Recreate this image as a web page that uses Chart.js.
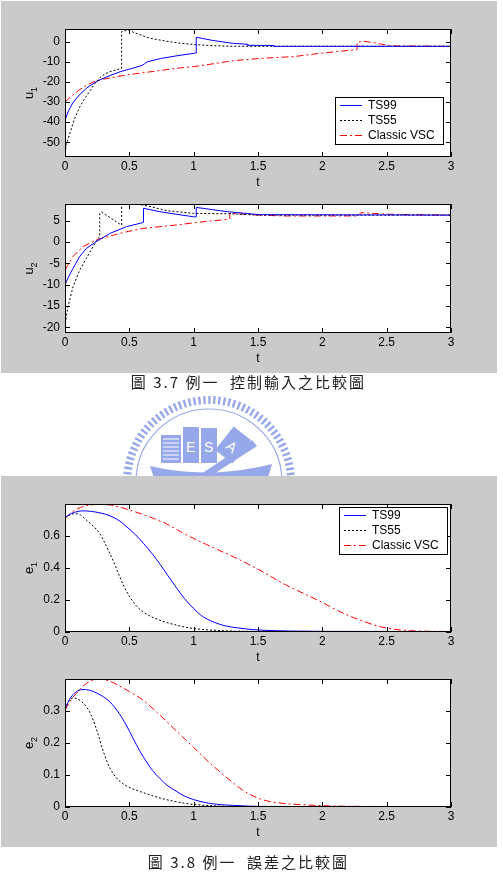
<!DOCTYPE html>
<html>
<head>
<meta charset="utf-8">
<script src="https://cdn.jsdelivr.net/npm/chart.js@4.4.0/dist/chart.umd.min.js"></script>
<style>
  html, body { margin: 0; padding: 0; background: #fff; }
  body { width: 503px; height: 876px; position: relative; overflow: hidden; }
  .painel { position: absolute; left: 1px; width: 496px; background: #cacaca; }
  canvas { position: absolute; left: 0; }
  .legenda-fig { position: absolute; left: 0; width: 497px; text-align: center; white-space: pre;
    font-family: "Noto Sans CJK TC"; font-size: 15px; line-height: 20px; letter-spacing: 2px; color: #222; }
  #logo { position: absolute; left: 0; top: 380px; }
</style>
</head>
<body>
<div class="painel" style="top:1px;height:372px"></div>
<svg id="logo" width="503" height="100">
  <g fill="none" stroke="#97a8ea">
    <circle cx="209" cy="102" r="82" stroke-width="8" stroke-dasharray="2.4 2.6"/>
    <circle cx="209" cy="102" r="73" stroke-width="1.2"/>
  </g>
  <g fill="#97a8ea">
    <rect x="161" y="55" width="20" height="28"/>
    <rect x="183" y="47" width="16" height="36"/>
    <rect x="201" y="48" width="16" height="35"/>
    <rect x="222" y="50" width="22" height="30" transform="rotate(38 233 65)"/>
    <path d="M150 86 Q209 100 272 84 L268 98 L154 98 Z"/>
    <path d="M198 96 L252 60 L257 66 L206 99 Z"/>
  </g>
  <g stroke="#fff" stroke-width="1">
    <line x1="163" y1="59" x2="179" y2="59"/><line x1="163" y1="63" x2="179" y2="63"/>
    <line x1="163" y1="67" x2="179" y2="67"/><line x1="163" y1="71" x2="179" y2="71"/>
    <line x1="163" y1="75" x2="179" y2="75"/><line x1="163" y1="79" x2="179" y2="79"/>
  </g>
  <g fill="#fff" font-family="Liberation Sans" font-size="14">
    <text x="186" y="72">E</text>
    <text x="204" y="72">S</text>
    <text x="227" y="72" transform="rotate(38 232 67)">A</text>
  </g>
</svg>
<div class="painel" style="top:476px;height:371px"></div>

<canvas id="graficoU1" width="497" height="188" style="top:9px"></canvas>
<canvas id="graficoU2" width="497" height="189" style="top:184px"></canvas>
<canvas id="graficoE1" width="497" height="188" style="top:484px"></canvas>
<canvas id="graficoE2" width="497" height="188" style="top:659px"></canvas>

<div class="legenda-fig" style="top:372px">圖 3.7 例一  控制輸入之比較圖</div>
<div class="legenda-fig" style="top:852px">圖 3.8 例一  誤差之比較圖</div>

<script>
// --- Dados ---
const tTicks = [0, 0.5, 1, 1.5, 2, 2.5, 3];
const u1Ticks = [-50, -40, -30, -20, -10, 0];
const u2Ticks = [-20, -15, -10, -5, 0, 5];
const e1Ticks = [0, 0.2, 0.4, 0.6];
const e2Ticks = [0, 0.1, 0.2, 0.3];
const nomesSeries = ['TS99', 'TS55', 'Classic VSC'];

// u1
const u1_ts99_t = [0, 0.03, 0.06, 0.11, 0.17, 0.22, 0.27, 0.35, 0.43, 0.52, 0.6, 0.62, 0.64, 0.75, 0.87, 1.0, 1.02, 1.02, 1.15, 1.3, 1.42, 1.42, 1.62, 1.62, 3];
const u1_ts99   = [-39, -34, -30.5, -26.5, -23, -20.8, -19, -16.8, -14.9, -13.3, -11.8, -10.9, -10, -8.3, -7, -5.8, -5.6, 2.2, 0.6, -0.8, -1.3, -1.8, -1.9, -2.3, -2.3];
const u1_ts55_t = [0, 0.01, 0.036, 0.07, 0.11, 0.15, 0.19, 0.23, 0.27, 0.31, 0.35, 0.44, 0.44, 0.49, 0.55, 0.66, 0.74, 0.79, 0.9, 1.0, 1.15, 1.3, 3];
const u1_ts55   = [-55.5, -51, -46, -39, -33, -28.5, -24.8, -21, -18, -16, -14.9, -13.2, 5, 5.8, 4.2, 1.7, 0.8, 0.2, -0.8, -1.4, -2, -2.3, -2.3];
const u1_vsc_t  = [0, 0.05, 0.11, 0.17, 0.22, 0.3, 0.48, 0.66, 0.87, 1.0, 1.13, 1.26, 1.3, 1.52, 1.78, 1.98, 2.12, 2.27, 2.27, 2.32, 2.4, 2.53, 3];
const u1_vsc    = [-30, -27, -24, -21.6, -20, -18.6, -16.5, -15, -13.2, -12.4, -11.2, -9.9, -9.5, -8.3, -7.4, -5.8, -4.9, -3.9, -0.3, 0.2, -0.5, -2.1, -2.3];

// u2
const u2_ts99_t = [0, 0.03, 0.062, 0.114, 0.166, 0.244, 0.348, 0.478, 0.6, 0.61, 0.61, 0.737, 0.866, 1.0, 1.02, 1.02, 1.26, 1.52, 3];
const u2_ts99   = [-10, -8, -6.2, -3.4, -1.5, 0.1, 2.0, 3.6, 4.5, 4.6, 7.9, 7.1, 6.5, 5.9, 5.9, 8.1, 7.1, 6.4, 6.3];
const u2_ts55_t = [0, 0.01, 0.023, 0.062, 0.114, 0.166, 0.218, 0.257, 0.27, 0.27, 0.285, 0.426, 0.44, 0.44, 0.5, 0.58, 0.66, 0.8, 1.0, 1.3, 1.5, 3];
const u2_ts55   = [-20, -17.5, -15.2, -10.5, -6.6, -3.8, -1.1, 0.9, 1.2, 6.7, 7.0, 4.2, 4.0, 8.8, 8.85, 8.8, 8.3, 7.3, 6.7, 6.6, 6.3, 6.3];
const u2_vsc_t  = [0, 0.03, 0.062, 0.1, 0.14, 0.19, 0.244, 0.35, 0.478, 0.607, 0.737, 0.87, 1.0, 1.13, 1.26, 1.28, 1.28, 1.35, 1.5, 1.7, 2.0, 2.28, 2.3, 2.4, 2.53, 2.7, 3];
const u2_vsc    = [-6.6, -5, -3.4, -2.2, -1.1, -0.3, 0.5, 1.4, 2.4, 3.2, 3.6, 4.0, 4.5, 4.9, 5.3, 5.4, 6.7, 6.6, 6.3, 6.1, 6.1, 6.1, 6.9, 6.7, 6.5, 6.4, 6.3];

// e1
const e1_ts99_t = [0, 0.05, 0.1, 0.14, 0.2, 0.28, 0.35, 0.42, 0.48, 0.55, 0.61, 0.68, 0.74, 0.8, 0.87, 0.93, 1.0, 1.06, 1.13, 1.2, 1.26, 1.35, 1.46, 1.6, 1.75, 2, 3];
const e1_ts99   = [0.715, 0.74, 0.752, 0.756, 0.753, 0.742, 0.725, 0.695, 0.656, 0.605, 0.552, 0.485, 0.42, 0.35, 0.27, 0.205, 0.144, 0.1, 0.068, 0.046, 0.033, 0.022, 0.012, 0.006, 0.003, 0.001, 0];
const e1_ts55_t = [0, 0.03, 0.062, 0.09, 0.12, 0.166, 0.22, 0.27, 0.31, 0.348, 0.39, 0.426, 0.46, 0.504, 0.55, 0.607, 0.67, 0.737, 0.8, 0.866, 0.93, 1.0, 1.1, 1.26, 1.4, 1.6, 3];
const e1_ts55   = [0.71, 0.728, 0.737, 0.738, 0.73, 0.698, 0.66, 0.614, 0.555, 0.489, 0.415, 0.342, 0.28, 0.217, 0.165, 0.123, 0.093, 0.071, 0.054, 0.04, 0.028, 0.019, 0.011, 0.004, 0.0015, 0, 0];
const e1_vsc_t  = [0, 0.05, 0.1, 0.15, 0.2, 0.27, 0.35, 0.42, 0.5, 0.6, 0.7, 0.8, 0.9, 1.0, 1.1, 1.2, 1.31, 1.4, 1.49, 1.6, 1.72, 1.85, 1.98, 2.11, 2.24, 2.35, 2.45, 2.55, 2.65, 2.75, 2.9, 3];
const e1_vsc    = [0.71, 0.745, 0.77, 0.785, 0.793, 0.796, 0.793, 0.78, 0.762, 0.735, 0.705, 0.67, 0.625, 0.583, 0.545, 0.508, 0.468, 0.432, 0.395, 0.345, 0.29, 0.24, 0.19, 0.135, 0.088, 0.055, 0.03, 0.015, 0.007, 0.003, 0.001, 0];

// e2
const e2_ts99_t = [0, 0.03, 0.062, 0.1, 0.14, 0.18, 0.22, 0.28, 0.35, 0.42, 0.48, 0.53, 0.58, 0.63, 0.68, 0.74, 0.8, 0.87, 0.93, 1.0, 1.13, 1.31, 1.5, 2, 3];
const e2_ts99   = [0.305, 0.332, 0.35, 0.362, 0.366, 0.365, 0.36, 0.348, 0.327, 0.292, 0.252, 0.213, 0.175, 0.142, 0.113, 0.087, 0.065, 0.047, 0.033, 0.022, 0.01, 0.004, 0.001, 0, 0];
const e2_ts55_t = [0, 0.03, 0.062, 0.09, 0.13, 0.17, 0.21, 0.25, 0.3, 0.35, 0.4, 0.45, 0.52, 0.6, 0.74, 0.87, 1.0, 1.2, 1.4, 3];
const e2_ts55   = [0.305, 0.33, 0.34, 0.338, 0.328, 0.31, 0.28, 0.235, 0.17, 0.12, 0.09, 0.072, 0.057, 0.045, 0.027, 0.015, 0.007, 0.002, 0, 0];
const e2_vsc_t  = [0, 0.05, 0.1, 0.15, 0.2, 0.27, 0.35, 0.42, 0.5, 0.6, 0.74, 0.87, 1.0, 1.13, 1.26, 1.38, 1.46, 1.57, 1.7, 1.85, 2.0, 2.3, 3];
const e2_vsc    = [0.302, 0.335, 0.36, 0.38, 0.393, 0.398, 0.392, 0.378, 0.36, 0.335, 0.285, 0.235, 0.185, 0.135, 0.09, 0.052, 0.034, 0.018, 0.01, 0.006, 0.003, 0.001, 0];

// Estilos das linhas (estilo MATLAB)
const cores = ['#0000ff', '#000000', '#ff0000'];
const tracos = [[], [2, 2], [7, 3, 2, 3]];
const fonte = 'Liberation Sans, Arial, sans-serif';

// --- Plugin: caixa, ticks internos, rótulo do eixo y e legenda ---
const eixosMatlab = {
    id: 'eixosMatlab',
    beforeDraw(chart) {
        const a = chart.chartArea, ctx = chart.ctx;
        ctx.save();
        ctx.fillStyle = '#fff';
        ctx.fillRect(a.left, a.top, a.right - a.left, a.bottom - a.top);
        ctx.restore();
    },
    afterDraw(chart, args, opts) {
        const ctx = chart.ctx, a = chart.chartArea;
        const sx = chart.scales.x, sy = chart.scales.y;
        ctx.save();
        ctx.strokeStyle = '#000';
        ctx.lineWidth = 1;
        ctx.strokeRect(a.left + 0.5, a.top + 0.5, a.right - a.left - 1, a.bottom - a.top - 1);

        // ticks para dentro, nos quatro lados
        ctx.beginPath();
        sx.ticks.forEach(tk => {
            const px = Math.round(sx.getPixelForValue(tk.value)) + 0.5;
            ctx.moveTo(px, a.bottom); ctx.lineTo(px, a.bottom - 5);
            ctx.moveTo(px, a.top); ctx.lineTo(px, a.top + 5);
        });
        sy.ticks.forEach(tk => {
            const py = Math.round(sy.getPixelForValue(tk.value)) + 0.5;
            ctx.moveTo(a.left, py); ctx.lineTo(a.left + 5, py);
            ctx.moveTo(a.right, py); ctx.lineTo(a.right - 5, py);
        });
        ctx.stroke();

        // rótulo do eixo y com subscrito
        ctx.fillStyle = '#000';
        ctx.font = '13px ' + fonte;
        const wL = ctx.measureText(opts.letra).width;
        ctx.font = '9px ' + fonte;
        const wS = ctx.measureText(opts.sub).width;
        ctx.translate(33, (a.top + a.bottom) / 2);
        ctx.rotate(-Math.PI / 2);
        ctx.textBaseline = 'alphabetic';
        ctx.textAlign = 'left';
        ctx.font = '13px ' + fonte;
        ctx.fillText(opts.letra, -(wL + wS) / 2, 0);
        ctx.font = '9px ' + fonte;
        ctx.fillText(opts.sub, -(wL + wS) / 2 + wL, 3.5);
        ctx.setTransform(1, 0, 0, 1, 0, 0);

        // legenda em caixa
        if (opts.caixa) {
            const c = opts.caixa;
            const bx = a.left + c.x, by = a.top + c.y;
            ctx.fillStyle = '#fff';
            ctx.fillRect(bx, by, c.w, c.h);
            ctx.strokeRect(Math.round(bx) + 0.5, Math.round(by) + 0.5, c.w, c.h);
            ctx.font = '12px ' + fonte;
            ctx.textBaseline = 'middle';
            chart.data.datasets.forEach((ds, i) => {
                const ly = Math.round(by + 8 + i * 15) + 0.5;
                ctx.beginPath();
                ctx.strokeStyle = ds.borderColor;
                ctx.setLineDash(ds.borderDash);
                ctx.moveTo(bx + 5, ly); ctx.lineTo(bx + 27, ly);
                ctx.stroke();
                ctx.setLineDash([]);
                ctx.fillStyle = '#000';
                ctx.fillText(ds.label, bx + 33, ly);
            });
        }
        ctx.restore();
    }
};

function criarGrafico(id, series, yMin, yMax, yTicks, letra, sub, caixa, suave) {
    const datasets = series.map((s, i) => ({
        label: nomesSeries[i],
        data: s[0].map((t, k) => ({ x: t, y: s[1][k] })),
        borderColor: cores[i],
        borderDash: tracos[i],
        borderWidth: 1,
        pointRadius: 0,
        fill: false,
        tension: 0,
        cubicInterpolationMode: suave ? 'monotone' : 'default'
    }));

    const estiloTicks = { color: '#000', font: { family: fonte, size: 12 }, callback: v => String(v) };

    return new Chart(document.getElementById(id), {
        type: 'line',
        data: { datasets },
        options: {
            responsive: false,
            animation: false,
            events: [],
            layout: { padding: { top: 20, right: 46, left: 0, bottom: 0 } },
            plugins: {
                legend: { display: false },
                tooltip: { enabled: false },
                eixosMatlab: { letra, sub, caixa }
            },
            scales: {
                x: {
                    type: 'linear', min: 0, max: 3,
                    afterBuildTicks: s => { s.ticks = tTicks.map(v => ({ value: v })); },
                    afterFit: s => { s.height = 40; },
                    grid: { display: false, drawTicks: false },
                    border: { display: false },
                    ticks: { ...estiloTicks, padding: 2, maxRotation: 0, autoSkip: false },
                    title: { display: true, text: 't', color: '#000', font: { family: fonte, size: 12 }, padding: { top: 0, bottom: 7 } }
                },
                y: {
                    type: 'linear', min: yMin, max: yMax,
                    afterBuildTicks: s => { s.ticks = yTicks.map(v => ({ value: v })); },
                    afterFit: s => { s.width = 65; },
                    grid: { display: false, drawTicks: false },
                    border: { display: false },
                    ticks: { ...estiloTicks, padding: 5 }
                }
            }
        },
        plugins: [eixosMatlab]
    });
}

criarGrafico('graficoU1',
    [[u1_ts99_t, u1_ts99], [u1_ts55_t, u1_ts55], [u1_vsc_t, u1_vsc]],
    -57.3, 6.3, u1Ticks, 'u', '1', { x: 270, y: 68, w: 108, h: 47 }, false);
criarGrafico('graficoU2',
    [[u2_ts99_t, u2_ts99], [u2_ts55_t, u2_ts55], [u2_vsc_t, u2_vsc]],
    -21.3, 8.9, u2Ticks, 'u', '2', null, false);
criarGrafico('graficoE1',
    [[e1_ts99_t, e1_ts99], [e1_ts55_t, e1_ts55], [e1_vsc_t, e1_vsc]],
    -0.003, 0.799, e1Ticks, 'e', '1', { x: 274, y: 3, w: 108, h: 47 }, true);
criarGrafico('graficoE2',
    [[e2_ts99_t, e2_ts99], [e2_ts55_t, e2_ts55], [e2_vsc_t, e2_vsc]],
    -0.001, 0.399, e2Ticks, 'e', '2', null, true);
</script>
</body>
</html>
